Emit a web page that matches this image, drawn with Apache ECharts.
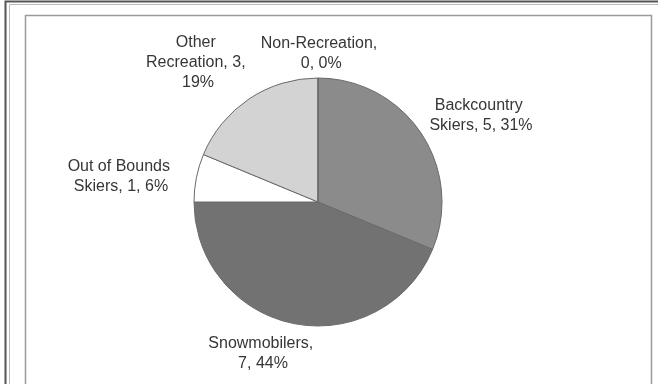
<!DOCTYPE html>
<html>
<head>
<meta charset="utf-8">
<script src="https://cdn.jsdelivr.net/npm/echarts@6/dist/echarts.min.js"></script>
<style>html,body{margin:0;padding:0;background:#fff}#c{width:658px;height:384px}</style>
</head>
<body>
<div id="c"></div>
<script>
const categories = ['Backcountry Skiers', 'Snowmobilers', 'Out of Bounds Skiers', 'Other Recreation', 'Non-Recreation'];
const counts = [5, 7, 1, 3, 0];
const sliceColors = ['#8b8b8b', '#727272', '#ffffff', '#d3d3d3', '#cccccc'];
// label centres (pixel placement of text only)
const labelCenters = [[481, 116], [263, 354], [121, 177], [198, 63], [319, 54]];

const chart = echarts.init(document.getElementById('c'));
chart.setOption({
  animation: false,
  backgroundColor: '#fff',
  graphic: [
    { type: 'rect', shape: { x: 5.5, y: 1.5, width: 700, height: 500 }, style: { fill: 'none', stroke: '#555', lineWidth: 2 } },
    { type: 'rect', shape: { x: 9.5, y: 4.5, width: 700, height: 500 }, style: { fill: 'none', stroke: '#bbb', lineWidth: 1 } },
    { type: 'rect', shape: { x: 25.5, y: 15.5, width: 626, height: 500 }, style: { fill: 'none', stroke: '#9a9a9a', lineWidth: 1.5 } }
  ],
  series: [{
    type: 'pie',
    center: [318, 202],
    radius: [0, 124],
    startAngle: 90,
    clockwise: true,
    percentPrecision: 0,
    avoidLabelOverlap: false,
    data: categories.map((n, i) => ({ name: n, value: counts[i], itemStyle: { color: sliceColors[i] } })),
    itemStyle: { borderColor: '#6a6a6a', borderWidth: 1 },
    label: {
      show: true,
      position: 'outside',
      formatter: p => p.name + ', ' + p.value + ', ' + p.percent + '%',
      fontFamily: 'Liberation Sans, Arial, sans-serif',
      fontSize: 16,
      lineHeight: 20,
      color: '#363636',
      width: 118,
      overflow: 'break',
      align: 'center'
    },
    labelLine: { show: false },
    emphasis: { disabled: true },
    labelLayout: p => ({
      x: labelCenters[p.dataIndex][0],
      y: labelCenters[p.dataIndex][1],
      align: 'center',
      verticalAlign: 'middle'
    })
  }]
});
</script>
</body>
</html>
